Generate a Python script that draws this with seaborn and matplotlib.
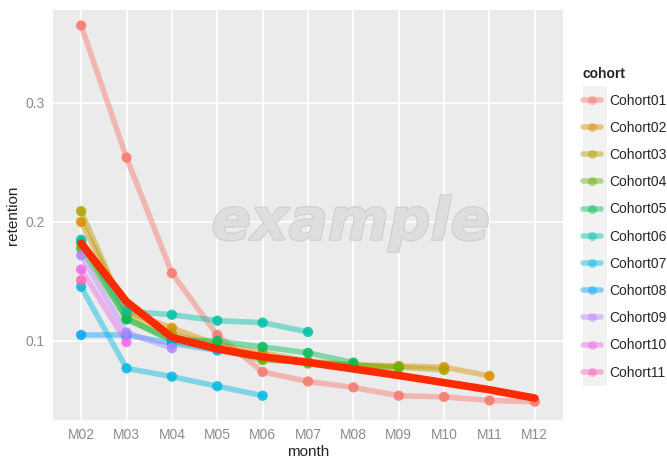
import numpy as np
import pandas as pd
import seaborn as sns
import matplotlib.pyplot as plt
import matplotlib.patheffects as pe
from matplotlib.lines import Line2D
from matplotlib.patches import Rectangle

months = ["M02", "M03", "M04", "M05", "M06", "M07", "M08", "M09", "M10", "M11", "M12"]
cohorts = ["Cohort01", "Cohort02", "Cohort03", "Cohort04", "Cohort05", "Cohort06",
           "Cohort07", "Cohort08", "Cohort09", "Cohort10", "Cohort11"]

# retention per cohort (each cohort is observed one month less than the previous)
cohort01 = [0.365, 0.254, 0.157, 0.105, 0.074, 0.066, 0.061, 0.054, 0.053, 0.050, 0.049]
cohort02 = [0.200, 0.125, 0.111, 0.097, 0.090, 0.083, 0.080, 0.079, 0.078, 0.0706]
cohort03 = [0.209, 0.122, 0.106, 0.096, 0.086, 0.081, 0.079, 0.078, 0.0756]
cohort04 = [0.178, 0.119, 0.100, 0.093, 0.084, 0.082, 0.080, 0.0777]
cohort05 = [0.183, 0.118, 0.101, 0.100, 0.095, 0.090, 0.0818]
cohort06 = [0.185, 0.125, 0.122, 0.117, 0.1154, 0.1076]
cohort07 = [0.1455, 0.077, 0.070, 0.062, 0.054]
cohort08 = [0.105, 0.105, 0.098, 0.092]
cohort09 = [0.172, 0.107, 0.094]
cohort10 = [0.160, 0.099]
cohort11 = [0.151]

# overall trend line (thick red)
trend = [0.182, 0.133, 0.103, 0.0933, 0.0866, 0.082, 0.0765, 0.071, 0.065, 0.059, 0.052]

palette = ["#F8766D", "#DB8E00", "#AEA200", "#64B200", "#00BD5C", "#00C1A7",
           "#00BADE", "#00A6FF", "#B385FF", "#EF67EB", "#FF63B6"]

series = [cohort01, cohort02, cohort03, cohort04, cohort05, cohort06,
          cohort07, cohort08, cohort09, cohort10, cohort11]
rows = []
for name, vals in zip(cohorts, series):
    for m, v in zip(months, vals):
        rows.append({"cohort": name, "month": m, "retention": v})
df = pd.DataFrame(rows)
df["x"] = df["month"].map({m: i for i, m in enumerate(months)})
trend_df = pd.DataFrame({"x": range(len(months)), "retention": trend})

sns.set_theme(style="darkgrid", rc={
    "axes.facecolor": "#EBEBEB",
    "grid.color": "white",
    "grid.linewidth": 1.2,
})
plt.rcParams["font.family"] = ["Liberation Sans", "DejaVu Sans"]

fig = plt.figure(figsize=(6.67, 4.58), dpi=100)
ax = fig.add_axes([53 / 667, 1 - 420 / 458, (563 - 53) / 667, (420 - 10) / 458])

sns.lineplot(data=df, x="x", y="retention", hue="cohort", palette=palette,
             hue_order=cohorts, linewidth=4, alpha=0.45, legend=False, ax=ax)
sns.scatterplot(data=df, x="x", y="retention", hue="cohort", palette=palette,
                hue_order=cohorts, s=55, alpha=0.85, edgecolor="none",
                legend=False, ax=ax, zorder=3)
sns.lineplot(data=trend_df, x="x", y="retention", color="#FF2A00",
             linewidth=5.5, ax=ax, zorder=4)

# watermark
ax.text(0.584, 0.48, "example", transform=ax.transAxes, ha="center", va="center",
        fontsize=42, fontstyle="italic", fontweight="bold", family="DejaVu Sans",
        color="#DEDEDE", zorder=2,
        path_effects=[pe.withStroke(linewidth=1.5, foreground="#CDCDCD")])

ax.set_xlim(-0.62, 10.62)
ax.set_ylim(0.0336, 0.378)
ax.set_xticks(range(len(months)))
ax.set_xticklabels(months)
ax.set_yticks([0.1, 0.2, 0.3])
ax.set_yticklabels(["0.1", "0.2", "0.3"])
ax.tick_params(axis="both", colors="#8C8C8C", labelsize=10, length=3, width=0.8,
               direction="out", pad=3)
for side in ax.spines.values():
    side.set_visible(False)
ax.set_xlabel("month", fontsize=11, color="#222222", labelpad=2)
ax.set_ylabel("retention", fontsize=11, color="#222222", labelpad=4)

# legend in ggplot style
handles = [Line2D([0], [0], color=c, linewidth=4, alpha=0.45, marker="o",
                  markersize=6.5, markerfacecolor=c, markeredgecolor="none")
           for c in palette]
fig.patches.append(Rectangle((583 / 667, 1 - 386 / 458), 24 / 667, 300 / 458,
                             transform=fig.transFigure, facecolor="#F2F2F2",
                             edgecolor="none", zorder=0))
leg = fig.legend(handles, cohorts, title="cohort", loc="upper left",
                 bbox_to_anchor=(570 / 667, 1 - 54 / 458), frameon=False,
                 fontsize=10, title_fontsize=10, handlelength=1.3,
                 labelspacing=0.95, handletextpad=0.6)
leg.get_title().set_fontweight("bold")
leg._legend_box.align = "left"

fig.savefig("out.png", dpi=100)
